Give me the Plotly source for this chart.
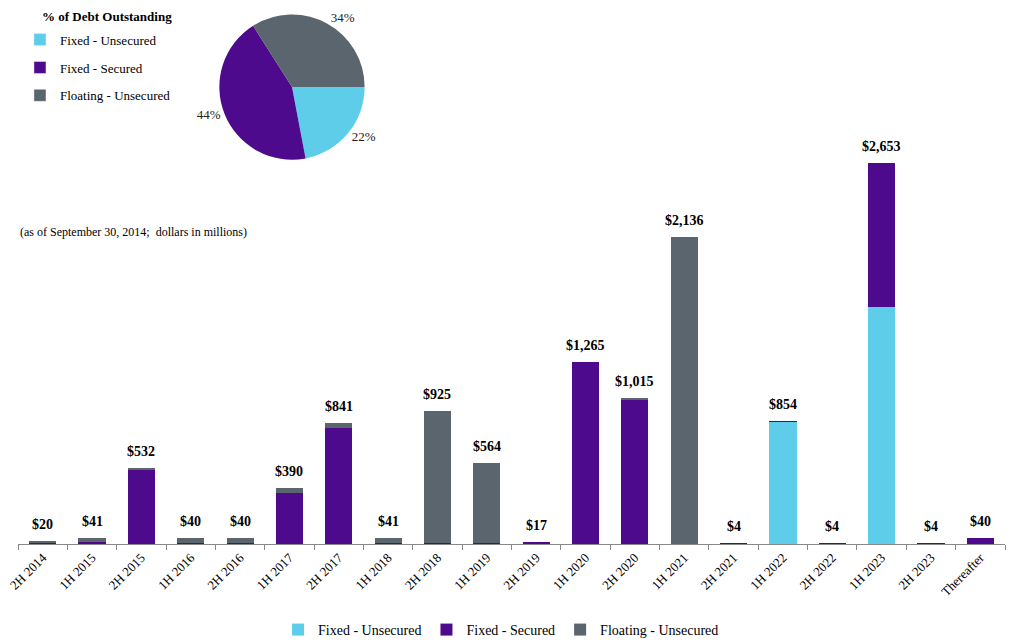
import plotly.graph_objects as go

# Vencimientos de deuda (millones de USD)
periodos = ["2H 2014", "1H 2015", "2H 2015", "1H 2016", "2H 2016", "1H 2017",
            "2H 2017", "1H 2018", "2H 2018", "1H 2019", "2H 2019", "1H 2020",
            "2H 2020", "1H 2021", "2H 2021", "1H 2022", "2H 2022", "1H 2023",
            "2H 2023", "Thereafter"]
fijo_no_garantizado = [0, 0, 0, 0, 0, 0, 0, 0, 0, 0, 0, 0,
                       0, 0, 0, 850, 0, 1650, 0, 0]
fijo_garantizado = [10, 15, 512, 5, 5, 355, 806, 5, 5, 5, 17, 1265,
                    1000, 0, 4, 4, 4, 1003, 4, 40]
flotante_no_garantizado = [10, 26, 20, 35, 35, 35, 35, 36, 920, 559, 0, 0,
                           15, 2136, 0, 0, 0, 0, 0, 0]

# Porcentaje de deuda pendiente
tipos = ["Fixed - Unsecured", "Fixed - Secured", "Floating - Unsecured"]
porcentajes = [22, 44, 34]

colores = ["#5ECDEA", "#4E0A8C", "#5B656E"]
fuente = "Liberation Serif"

totales = [a + b + c for a, b, c in zip(fijo_no_garantizado, fijo_garantizado, flotante_no_garantizado)]
etiquetas = [f"${t:,}" for t in totales]

fig = go.Figure()

for nombre, valores, color in zip(tipos, [fijo_no_garantizado, fijo_garantizado, flotante_no_garantizado], colores):
    fig.add_trace(go.Bar(
        x=periodos, y=valores, name=nombre,
        marker=dict(color=color, line=dict(width=0)),
    ))

# Entradas de la leyenda del pastel (separadas para controlar el espaciado)
for i, (nombre, color) in enumerate(zip(tipos, colores)):
    fig.add_trace(go.Bar(
        x=[None], y=[None], name=nombre, marker=dict(color=color),
        legend="legend2", legendgroup=f"pie{i}", hoverinfo="skip",
    ))

# Grafica de pastel
fig.add_trace(go.Pie(
    labels=tipos, values=porcentajes, sort=False, direction="clockwise",
    rotation=90, marker=dict(colors=colores, line=dict(width=0)),
    texttemplate="%{value}%", textposition="outside",
    textfont=dict(family=fuente, size=13, color="#222"),
    domain=dict(x=[0.1876, 0.3676], y=[0.717, 0.988]),
    showlegend=False, hoverinfo="label+percent",
))

# Totales encima de cada barra
anotaciones = [dict(x=p, y=t, text=f"<b>{e}</b>", showarrow=False,
                    xref="x", yref="y", yanchor="bottom", yshift=7,
                    font=dict(family=fuente, size=14, color="black"))
               for p, t, e in zip(periodos, totales, etiquetas)]
anotaciones.append(dict(text="(as of September 30, 2014;  dollars in millions)",
                        xref="paper", yref="paper", x=0.0, y=0.582, xanchor="left",
                        yanchor="middle", showarrow=False,
                        font=dict(family=fuente, size=12)))
anotaciones.append(dict(text="<b>% of Debt Outstanding</b>",
                        xref="paper", yref="paper", x=0.022, y=0.985, xanchor="left",
                        yanchor="middle", showarrow=False,
                        font=dict(family=fuente, size=13)))

fig.update_layout(
    width=1028, height=642,
    margin=dict(l=10, r=31, t=0, b=106, autoexpand=False),
    paper_bgcolor="white", plot_bgcolor="white",
    font=dict(family=fuente, size=13, color="black"),
    barmode="stack", bargap=0.45,
    showlegend=True,
    legend=dict(orientation="h", x=0.4894, xanchor="center", y=-0.1604, yanchor="middle",
                traceorder="normal", font=dict(family=fuente, size=14), itemwidth=30),
    legend2=dict(x=0.002, y=0.969, xanchor="left", yanchor="top",
                 tracegroupgap=8, traceorder="grouped",
                 font=dict(family=fuente, size=13)),
    xaxis=dict(showline=True, linecolor="#888", linewidth=1, ticks="outside",
               tickson="boundaries", ticklen=5, tickcolor="#888", tickangle=-45,
               tickfont=dict(family=fuente, size=13), showgrid=False, automargin=False),
    yaxis=dict(visible=False, range=[0, 3732], automargin=False),
    annotations=anotaciones,
)

fig.write_html("out.html")
